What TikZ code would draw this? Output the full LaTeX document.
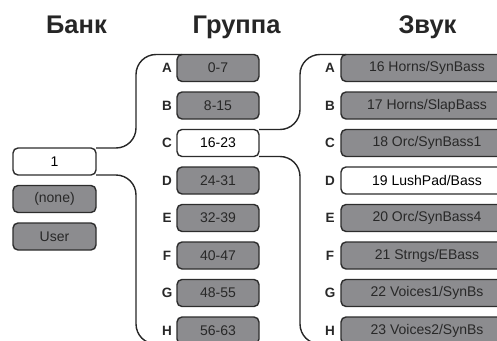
\documentclass[tikz,border=0pt]{standalone}
\usepackage{fontspec}
\setmainfont{Liberation Sans}
\definecolor{boxgray}{RGB}{140,140,143}
\definecolor{edge}{RGB}{45,45,45}
\definecolor{txtdark}{RGB}{40,40,40}
\newcommand\sndtxt[1]{\makebox[158pt]{#1}\hspace{14pt}}
\begin{document}
\begin{tikzpicture}[x=1pt,y=-1pt,
  box/.style={draw=edge, line width=1.4pt, rounded corners=5pt, minimum height=27pt,
    inner sep=0pt, outer sep=0pt, font=\fontsize{14}{16}\selectfont},
  graybox/.style={box, fill=boxgray, text=txtdark},
  whitebox/.style={box, fill=white, text=black},
  bankw/.style={minimum width=83pt},
  groupw/.style={minimum width=82pt},
  soundw/.style={minimum width=172pt, anchor=west},
  letter/.style={font=\fontsize{13.5}{15}\selectfont\bfseries, text=txtdark, inner sep=0pt},
  header/.style={font=\fontsize{25.5}{28}\selectfont\bfseries, text=black!85, anchor=base, inner sep=0pt},
  conn/.style={draw=black!85, line width=1.4pt, rounded corners=20pt}
]
\useasboundingbox (0,0) rectangle (497,340);
\clip (0,0) rectangle (497,340);

% headers
\node[header] (hbank) at (76.5,33) {Банк};
\node[header] (hgroup) at (236.5,33) {Группа};
\node[header] (hsound) at (427.5,33) {Звук};

% bank column
\node[whitebox, bankw] (b1) at (54.5,161.5) {1};
\node[graybox, bankw] (bnone) at (54.5,199) {(none)};
\node[graybox, bankw] (buser) at (54.5,236.5) {User};

% group column
\node[graybox, groupw] (gA) at (218,68) {0-7};
\node[graybox, groupw] (gB) at (218,105.5) {8-15};
\node[whitebox, groupw] (gC) at (218,143) {16-23};
\node[graybox, groupw] (gD) at (218,180.5) {24-31};
\node[graybox, groupw] (gE) at (218,218) {32-39};
\node[graybox, groupw] (gF) at (218,255.5) {40-47};
\node[graybox, groupw] (gG) at (218,293) {48-55};
\node[graybox, groupw] (gH) at (218,330.5) {56-63};

\node[letter] (lgA) at (167,68) {A};
\node[letter] (lgB) at (167,105.5) {B};
\node[letter] (lgC) at (167,143) {C};
\node[letter] (lgD) at (167,180.5) {D};
\node[letter] (lgE) at (167,218) {E};
\node[letter] (lgF) at (167,255.5) {F};
\node[letter] (lgG) at (167,293) {G};
\node[letter] (lgH) at (167,330.5) {H};

% sound column
\node[graybox, soundw] (sA) at (341,68) {\sndtxt{16 Horns/SynBass}};
\node[graybox, soundw] (sB) at (341,105.5) {\sndtxt{17 Horns/SlapBass}};
\node[graybox, soundw] (sC) at (341,143) {\sndtxt{18 Orc/SynBass1}};
\node[whitebox, soundw] (sD) at (341,180.5) {\sndtxt{19 LushPad/Bass}};
\node[graybox, soundw] (sE) at (341,218) {\sndtxt{20 Orc/SynBass4}};
\node[graybox, soundw] (sF) at (341,255.5) {\sndtxt{21 Strngs/EBass}};
\node[graybox, soundw] (sG) at (341,293) {\sndtxt{22 Voices1/SynBs}};
\node[graybox, soundw] (sH) at (341,330.5) {\sndtxt{23 Voices2/SynBs}};

\node[letter] (lsA) at (330,68) {A};
\node[letter] (lsB) at (330,105.5) {B};
\node[letter] (lsC) at (330,143) {C};
\node[letter] (lsD) at (330,180.5) {D};
\node[letter] (lsE) at (330,218) {E};
\node[letter] (lsF) at (330,255.5) {F};
\node[letter] (lsG) at (330,293) {G};
\node[letter] (lsH) at (330,330.5) {H};

% connector columns
\coordinate (j1) at (136,0);
\coordinate (j2) at (300,0);

\draw[conn] (b1.north east) -- (b1.north east -| j1) -- (gA.north -| j1) -- ([xshift=5pt]gA.north west);
\draw[conn] (b1.south east) -- (b1.south east -| j1) -- (gH.south -| j1) -- ([xshift=5pt]gH.south west);
\draw[conn] (gC.north east) -- (gC.north east -| j2) -- (sA.north west -| j2) -- ([xshift=5pt]sA.north west);
\draw[conn] (gC.south east) -- (gC.south east -| j2) -- (sH.south west -| j2) -- ([xshift=5pt]sH.south west);
\end{tikzpicture}
\end{document}
